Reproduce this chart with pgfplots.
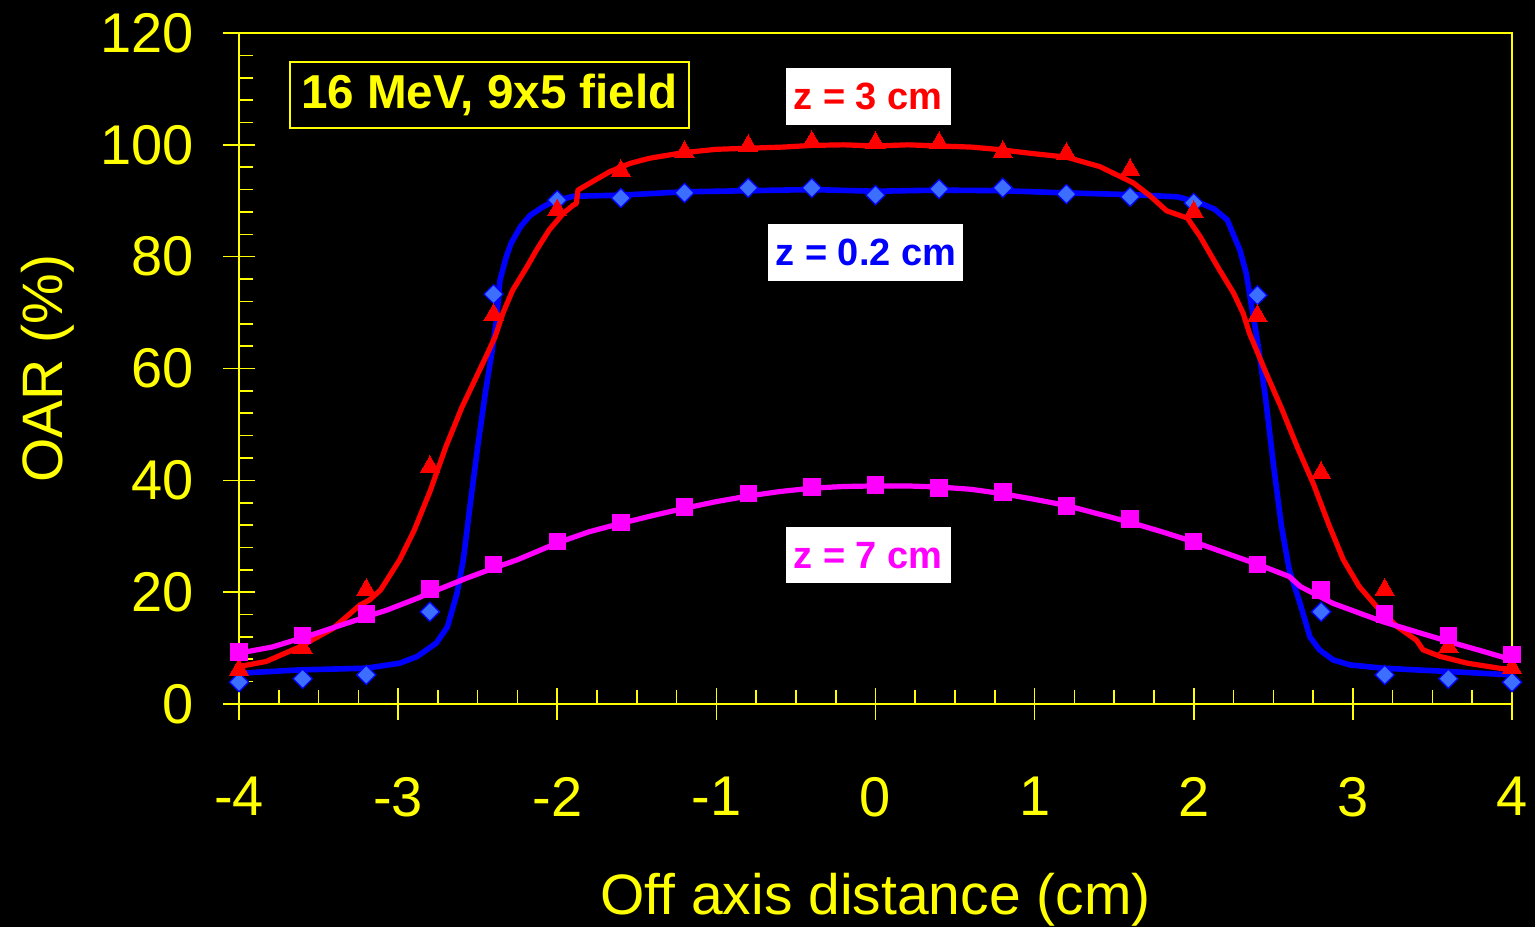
\documentclass[border=0pt]{standalone}
\usepackage{fontspec}
\setmainfont{Liberation Sans}
\usepackage{pgfplots}
\pgfplotsset{compat=1.18}

\definecolor{oaryellow}{RGB}{255,255,0}
\definecolor{oarblue}{RGB}{0,0,255}
\definecolor{diamondblue}{RGB}{60,110,255}
\definecolor{oarred}{RGB}{255,0,0}
\definecolor{oarmagenta}{RGB}{255,0,255}

\begin{document}
\begin{tikzpicture}
% black page, 1535x927 px at 0.5pt per px
\fill[black] (-119.5pt,-111.5pt) rectangle (648pt,352pt);
\useasboundingbox (-119.5pt,-111.5pt) rectangle (648pt,352pt);
\begin{axis}[
  scale only axis, width=636.5pt, height=335.5pt,
  xmin=-4, xmax=4, ymin=0, ymax=120,
  clip=false,
  axis line style={oaryellow, line width=1pt},
  xtick={-4,-3,-2,-1,0,1,2,3,4},
  xticklabels={-4,-3,-2,-1,0,1,2,3,4},
  ytick={0,20,40,60,80,100,120},
  minor x tick num=3, minor y tick num=4,
  xtick pos=bottom, ytick pos=left,
  tick align=center,
  major tick length=16pt, minor tick length=7pt,
  tick style={oaryellow, line width=0.8pt},
  minor x tick style={yshift=3.5pt},
  minor y tick style={xshift=3.5pt},
  /pgf/number format/assume math mode=true,
  ticklabel style={font=\fontsize{28}{28}\selectfont, text=oaryellow},
  xticklabel style={yshift=-25pt},
  yticklabel style={xshift=-11pt},
  xlabel={Off axis distance (cm)},
  ylabel={OAR (\%)},
  label style={font=\fontsize{28.5}{28.5}\selectfont, text=oaryellow},
  xlabel style={at={(axis description cs:0.5,-0.313)}, anchor=base},
  ylabel style={at={(axis description cs:-0.139,0.5)}, anchor=base, rotate=0},
]
% fitted curves
\addplot[oarblue, line width=2.8pt, line join=round] coordinates {
(-4.0,5.5) (-3.62,6.1) (-3.2,6.4) (-2.99,7.3) (-2.88,8.5) (-2.76,10.9)
(-2.69,13.8) (-2.63,19.8) (-2.59,25.8) (-2.55,35) (-2.5,46) (-2.45,56)
(-2.41,63) (-2.38,69) (-2.36,75.8) (-2.32,80) (-2.29,82.4) (-2.23,85.4)
(-2.17,87.4) (-2.09,88.9) (-2.03,89.8) (-1.9,90.8) (-1.6,91.0) (-1.2,91.6)
(-0.8,91.8) (-0.4,92.0) (0,91.7) (0.4,91.9) (0.8,91.8) (1.2,91.4)
(1.6,91.1) (1.9,90.7) (2.04,89.6) (2.13,88.5) (2.21,86.6) (2.29,81.2)
(2.33,77) (2.37,70) (2.4,65) (2.45,55) (2.5,43) (2.55,32) (2.6,24)
(2.668,18) (2.73,12) (2.79,9.7) (2.875,7.9) (2.98,7) (3.19,6.4)
(3.61,5.8) (4,5.2)
};
\addplot[oarred, line width=2.6pt, line join=round] coordinates {
(-4,6.7) (-3.83,7.6) (-3.62,10.2) (-3.41,13.5) (-3.24,17.7) (-3.18,18.6)
(-3.11,20.4) (-3.03,24) (-2.99,25.8) (-2.9,31) (-2.8,38) (-2.7,46)
(-2.6,53) (-2.5,59) (-2.45,62) (-2.39,65.7) (-2.34,70) (-2.28,74)
(-2.19,78.2) (-2.13,81.2) (-2.05,84.8) (-1.96,87.8) (-1.9,89.2)
(-1.88,89.5) (-1.87,91.9) (-1.78,93.4) (-1.67,95.2) (-1.54,96.7)
(-1.42,97.6) (-1.21,98.6) (-1.0,99.2) (-0.79,99.4) (-0.58,99.6)
(-0.4,99.9) (-0.2,100) (0,99.8) (0.2,100) (0.4,99.8) (0.6,99.6)
(0.76,99.2) (1.0,98.4) (1.2,97.8) (1.41,96.1) (1.62,93.2) (1.72,91)
(1.83,88.2) (1.96,86.9) (2.04,83.6) (2.15,78.2) (2.25,73.5) (2.31,69.9)
(2.35,66.3) (2.45,59.5) (2.55,53) (2.65,46) (2.75,39.5) (2.85,32)
(2.94,25.8) (3.04,21) (3.15,17.4) (3.28,13.8) (3.4,11.4) (3.44,9.7)
(3.55,8.5) (3.72,7.3) (3.92,6.4) (4,6.2)
};
\addplot[oarmagenta, line width=2.6pt, line join=round] coordinates {
(-4,9.1) (-3.79,10.2) (-3.55,12.3) (-3.2,15.6) (-3.07,16.8) (-2.88,18.9)
(-2.78,20.1) (-2.57,22.5) (-2.4,24.3) (-2.25,25.8) (-2,28.8) (-1.8,30.8)
(-1.6,32.3) (-1.4,33.7) (-1.2,35) (-1,36.2) (-0.8,37.2) (-0.6,38)
(-0.4,38.6) (-0.2,38.9) (0,39) (0.2,39) (0.4,38.8) (0.6,38.4) (0.8,37.6)
(1,36.6) (1.2,35.5) (1.4,34) (1.6,32.5) (1.8,30.8) (2,29) (2.2,27)
(2.4,25) (2.6,22.8) (2.67,21) (2.875,18) (3.19,14.7) (3.61,11.1)
(3.82,9.4) (4,7.9)
};
% measured points
\addplot[only marks, mark=square*, mark size=3.4pt,
  mark options={rotate=45, fill=diamondblue, draw=oarblue, line width=0.6pt}] coordinates {
(-4,3.9) (-3.6,4.5) (-3.2,5.2) (-2.8,16.5) (-2.4,73.3) (-2,90.1) (-1.6,90.5)
(-1.2,91.4) (-0.8,92.3) (-0.4,92.3) (0,91.0) (0.4,92.1) (0.8,92.3) (1.2,91.2)
(1.6,90.7) (2,89.6) (2.4,73.1) (2.8,16.5) (3.2,5.2) (3.6,4.5) (4,3.9)
};
\addplot[only marks, mark=triangle*, mark size=5.6pt,
  mark options={fill=oarred, draw=oarred, line width=0pt}] coordinates {
(-4,6.1) (-3.6,10) (-3.2,20.4) (-2.8,42.4) (-2.4,69.6) (-2,88.3) (-1.6,95.3)
(-1.2,98.7) (-0.8,99.8) (-0.4,100.5) (0,100.3) (0.4,100.3) (0.8,98.7)
(1.2,98.4) (1.6,95.5) (2,88) (2.4,69.4) (2.8,41.3) (3.2,20.4) (3.6,10.2)
(4,6.4)
};
\addplot[only marks, mark=square*, mark size=4.1pt,
  mark options={fill=oarmagenta, draw=oarmagenta, line width=0pt}] coordinates {
(-4,9.3) (-3.6,12.2) (-3.2,16.1) (-2.8,20.6) (-2.4,25) (-2,29.1) (-1.6,32.5)
(-1.2,35.2) (-0.8,37.6) (-0.4,38.8) (0,39.2) (0.4,38.6) (0.8,37.9) (1.2,35.4)
(1.6,33.1) (2,29.1) (2.4,24.9) (2.8,20.4) (3.2,16.1) (3.6,12.2) (4,8.9)
};
% annotations
\node[draw=oaryellow, line width=1pt, fill=black, text=oaryellow,
  minimum width=199.5pt, minimum height=33pt, inner sep=0pt,
  font=\bfseries\fontsize{23.8}{23.8}\selectfont]
  at (axis cs:-2.426,108.9) {16 MeV, 9x5 field};
\node[fill=white, text=oarred, minimum width=82.5pt, minimum height=28.5pt,
  inner sep=0pt, font=\bfseries\fontsize{19}{19}\selectfont]
  at (axis cs:-0.047,108.6) {z = 3 cm};
\node[fill=white, text=oarblue, minimum width=97.5pt, minimum height=28.5pt,
  inner sep=0pt, font=\bfseries\fontsize{19}{19}\selectfont]
  at (axis cs:-0.06,80.8) {z = 0.2 cm};
\node[fill=white, text=oarmagenta, minimum width=82.5pt, minimum height=28pt,
  inner sep=0pt, font=\bfseries\fontsize{19}{19}\selectfont]
  at (axis cs:-0.047,26.6) {z = 7 cm};
\end{axis}
\end{tikzpicture}
\end{document}
